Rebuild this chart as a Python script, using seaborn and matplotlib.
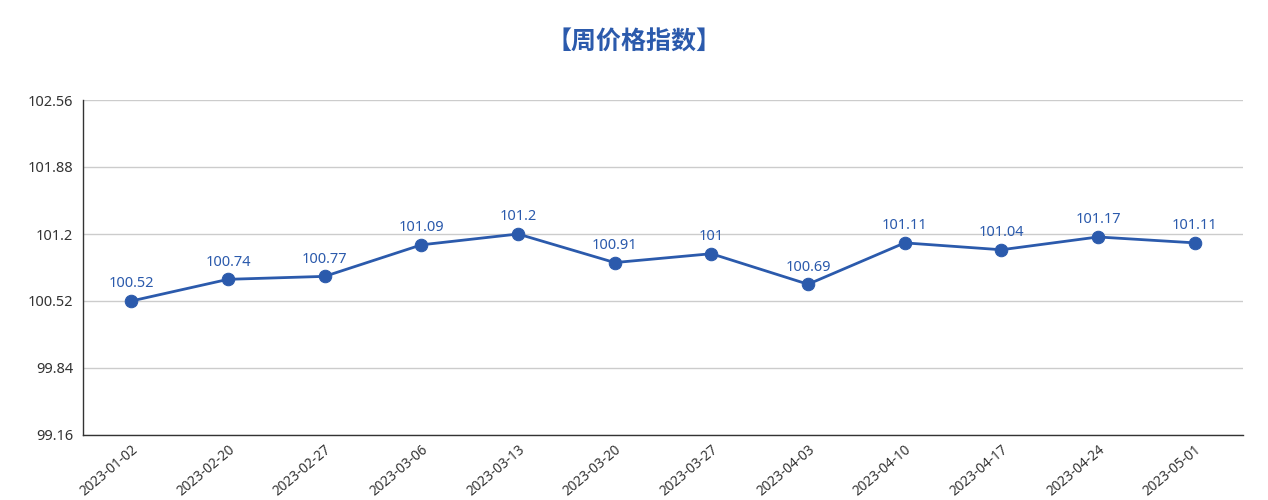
import matplotlib
matplotlib.use("Agg")
import matplotlib.pyplot as plt
import numpy as np
import pandas as pd
import seaborn as sns

# Weekly price index data
dates = ['2023-01-02', '2023-02-20', '2023-02-27', '2023-03-06', '2023-03-13',
         '2023-03-20', '2023-03-27', '2023-04-03', '2023-04-10', '2023-04-17',
         '2023-04-24', '2023-05-01']
values = [100.52, 100.74, 100.77, 101.09, 101.2, 100.91, 101.0, 100.69,
          101.11, 101.04, 101.17, 101.11]
value_labels = ['100.52', '100.74', '100.77', '101.09', '101.2', '100.91', '101',
                '100.69', '101.11', '101.04', '101.17', '101.11']
y_ticks = [99.16, 99.84, 100.52, 101.2, 101.88, 102.56]
y_tick_labels = ['99.16', '99.84', '100.52', '101.2', '101.88', '102.56']
title = '【周价格指数】'

sns.set_theme(style='white')
plt.rcParams['font.family'] = ['Noto Sans', 'Noto Sans CJK SC', 'DejaVu Sans']

blue = '#2b5aac'
df = pd.DataFrame({'date': dates, 'value': values})

fig = plt.figure(figsize=(12.68, 5), dpi=100)
ax = fig.add_axes([0.0655, 0.13, 0.9148, 0.67])

sns.lineplot(data=df, x='date', y='value', ax=ax, sort=False, color=blue,
             linewidth=2, marker='o', markersize=9, markeredgecolor=blue)

for i, (v, lab) in enumerate(zip(values, value_labels)):
    ax.annotate(lab, (i, v), xytext=(0, 7), textcoords='offset points',
                ha='center', va='bottom', color=blue, fontsize=10.5)

ax.set_xlim(-0.5, len(dates) - 0.5)
ax.set_ylim(y_ticks[0], y_ticks[-1])
ax.set_yticks(y_ticks)
ax.set_yticklabels(y_tick_labels)
ax.set_xticks(range(len(dates)))
ax.set_xticklabels(dates, rotation=40, ha='right', rotation_mode='anchor')
ax.set_xticks(np.arange(-0.5, len(dates), 1), minor=True)
ax.tick_params(axis='x', which='major', length=0, pad=5, labelsize=9.8, colors='#333333')
ax.tick_params(axis='x', which='minor', length=5, width=1, color='#333333', direction='out')
ax.tick_params(axis='y', which='major', length=5, width=1, color='#333333',
               labelsize=10.5, labelcolor='#333333', direction='out', pad=2)
ax.set_xlabel('')
ax.set_ylabel('')

ax.yaxis.grid(True, color='#cccccc', linewidth=1)
ax.xaxis.grid(False)
for side in ['top', 'right']:
    ax.spines[side].set_visible(False)
for side in ['left', 'bottom']:
    ax.spines[side].set_color('#333333')
    ax.spines[side].set_linewidth(1)

fig.text(0.5, 0.915, title, ha='center', va='center', fontsize=18,
         fontweight='bold', color=blue, family=['Noto Sans CJK SC', 'DejaVu Sans'])

fig.savefig('out.png', dpi=100)
